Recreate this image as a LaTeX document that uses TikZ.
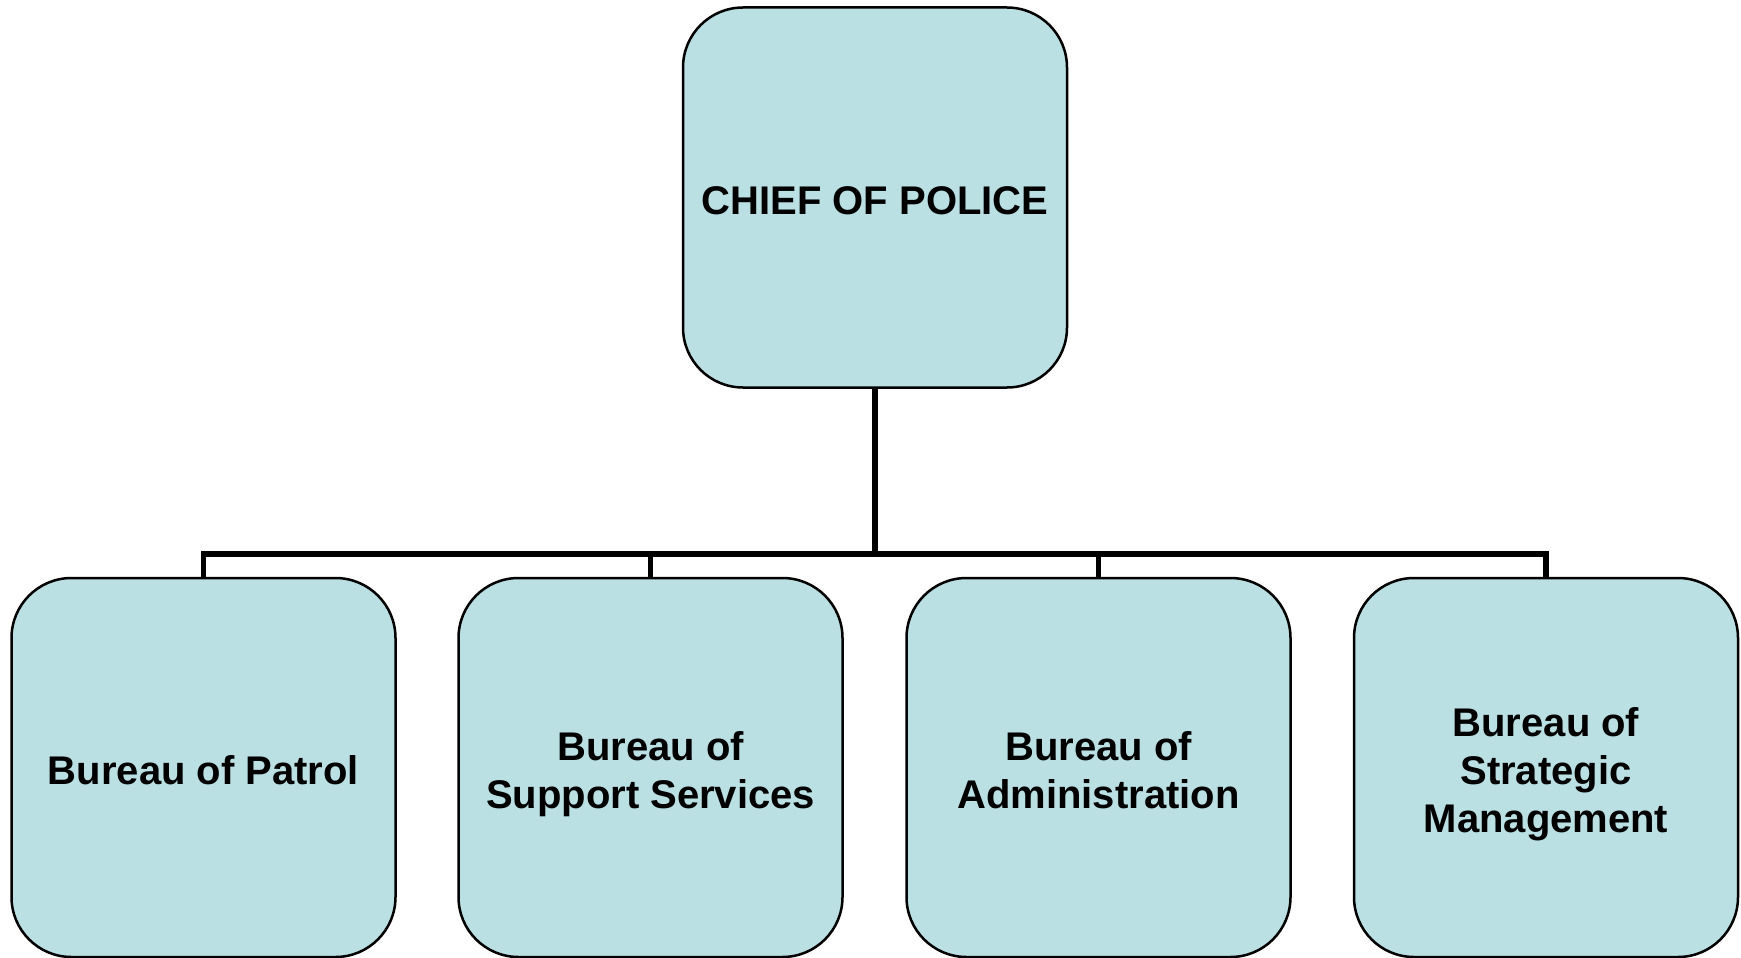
\documentclass[tikz,border=0pt]{standalone}
\usepackage{fontspec}
\setmainfont{Liberation Sans}
\usetikzlibrary{backgrounds}
\definecolor{boxfill}{RGB}{186,224,227}
\newcommand\tophi{\rule{0pt}{43pt}}
\newcommand\botlo{\rule[-8.5pt]{0pt}{8.5pt}}
\begin{document}
\begin{tikzpicture}[
  x=1pt,y=1pt,
  orgbox/.style={draw=black, line width=2.5pt, fill=boxfill, rounded corners=60pt,
    minimum width=384pt, minimum height=380pt, inner sep=0pt, align=center,
    font=\fontsize{40}{48}\selectfont\bfseries},
  link/.style={draw=black, line width=5.5pt}
]
\useasboundingbox (0,0) rectangle (1741,-958);
\node[orgbox] (chief) at (875,-197.5) {\tophi CHIEF OF POLICE\botlo};
\node[orgbox, minimum height=379pt] (b1) at (203.5,-767.5) {\tophi Bureau of Patrol\botlo};
\node[orgbox, minimum height=379pt] (b2) at (650.5,-767.5) {\tophi Bureau of\\Support Services\botlo};
\node[orgbox, minimum height=379pt] (b3) at (1098.5,-767.5) {\tophi Bureau of\\Administration\botlo};
\node[orgbox, minimum height=379pt] (b4) at (1546,-767.5) {\tophi Bureau of\\Strategic\\Management\botlo};
\coordinate (bar) at (875,-554);
\begin{pgfonlayer}{background}
\draw[link] (chief.south) -- (bar);
\draw[link] (b1.north) |- (bar);
\draw[link] (b2.north) |- (bar);
\draw[link] (b3.north) |- (bar);
\draw[link] (b4.north) |- (bar);
\end{pgfonlayer}
\end{tikzpicture}
\end{document}
